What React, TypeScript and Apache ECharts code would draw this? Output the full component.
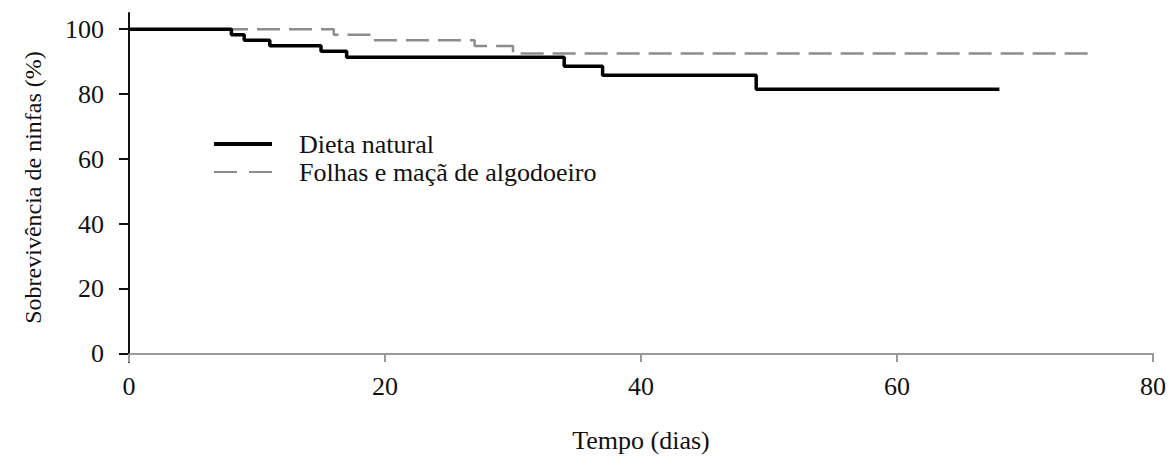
import React, { useEffect, useRef } from "react";
import * as echarts from "echarts";

const dietaTimes = [0, 8, 9, 11, 15, 17, 34, 37, 49, 68];
const dietaValues = [100, 98.3, 96.6, 94.9, 93.2, 91.4, 88.6, 85.8, 81.5, 81.5];
const folhasTimes = [0, 16, 19, 27, 30, 75];
const folhasValues = [100, 98.3, 96.6, 94.8, 92.5, 92.5];
const yTicks = [0, 20, 40, 60, 80, 100];
const seriesNames = ["Dieta natural", "Folhas e maçã de algodoeiro"];

const FONT = "'Times New Roman', 'Liberation Serif', serif";

export default function App() {
  const ref = useRef<HTMLDivElement>(null);
  useEffect(() => {
    if (!ref.current) return;
    const chart = echarts.init(ref.current, undefined, { renderer: "svg" });
    chart.setOption({
      animation: false,
      backgroundColor: "#ffffff",
      textStyle: { fontFamily: FONT, color: "#111" },
      grid: { left: 129, right: 20, top: 13, bottom: 104, containLabel: false },
      legend: {
        orient: "vertical",
        left: 212,
        top: 130,
        itemWidth: 58,
        itemHeight: 14,
        itemGap: 0,
        padding: 0,
        data: [
          { name: seriesNames[0], lineStyle: { width: 4, color: "#000" } },
          { name: seriesNames[1], lineStyle: { width: 2, color: "#8c8c8c", type: [23, 12] } },
        ],
        itemStyle: { opacity: 0 },
        textStyle: {
          fontFamily: FONT,
          fontSize: 26,
          color: "#111",
          lineHeight: 28,
          padding: [0, 0, 0, 22],
        },
      },
      xAxis: {
        type: "value",
        min: 0,
        max: 80,
        interval: 20,
        name: "Tempo (dias)",
        nameLocation: "middle",
        nameGap: 65,
        nameTextStyle: { fontFamily: FONT, fontSize: 26, color: "#111" },
        axisLine: { onZero: true, lineStyle: { color: "#9a9a9a", width: 2 } },
        axisTick: { show: true, inside: false, length: 8, lineStyle: { color: "#9a9a9a", width: 2 } },
        axisLabel: { margin: 11, fontFamily: FONT, fontSize: 26, color: "#111" },
        splitLine: { show: false },
      },
      yAxis: {
        type: "value",
        min: -2.5,
        max: 105,
        name: "Sobrevivência de ninfas (%)",
        nameLocation: "middle",
        nameGap: 84,
        nameTextStyle: { fontFamily: FONT, fontSize: 24, color: "#111" },
        axisLine: { show: true, lineStyle: { color: "#111", width: 2 } },
        axisTick: { show: true, inside: false, length: 10, customValues: yTicks, lineStyle: { color: "#111", width: 2 } },
        axisLabel: { margin: 25, customValues: yTicks, fontFamily: FONT, fontSize: 26, color: "#111" },
        splitLine: { show: false },
      },
      series: [
        {
          name: seriesNames[1],
          type: "line",
          step: "end",
          symbol: "none",
          showSymbol: false,
          data: folhasTimes.map((t, i) => [t, folhasValues[i]]),
          lineStyle: { color: "#8c8c8c", width: 2.5, type: [23, 9] },
          itemStyle: { color: "#8c8c8c" },
          z: 2,
        },
        {
          name: seriesNames[0],
          type: "line",
          step: "end",
          symbol: "none",
          showSymbol: false,
          data: dietaTimes.map((t, i) => [t, dietaValues[i]]),
          lineStyle: { color: "#000", width: 3.5 },
          itemStyle: { color: "#000" },
          z: 3,
        },
      ],
    });
    return () => chart.dispose();
  }, []);
  return (
    <div
      ref={ref}
      style={{ position: "fixed", left: 0, top: 0, width: 1173, height: 466, background: "#fff" }}
    />
  );
}
